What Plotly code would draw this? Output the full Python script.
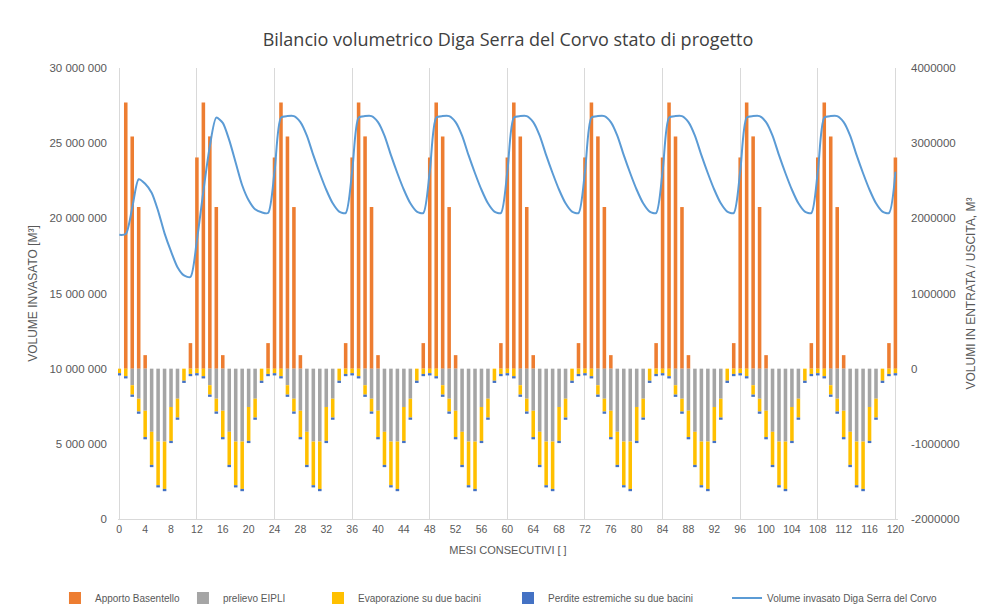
import plotly.graph_objects as go

# ---------------- data (m³) ----------------
mesi = list(range(121))
tick_mesi = list(range(0, 121, 4))

apporto_basentello = [
    0, 3540000, 3090000, 2150000, 180000, 0, 0, 0, 0, 0, 0, 340000,
    2810000, 3540000, 3090000, 2150000, 180000, 0, 0, 0, 0, 0, 0, 340000,
    2810000, 3540000, 3090000, 2150000, 180000, 0, 0, 0, 0, 0, 0, 340000,
    2810000, 3540000, 3090000, 2150000, 180000, 0, 0, 0, 0, 0, 0, 340000,
    2810000, 3540000, 3090000, 2150000, 180000, 0, 0, 0, 0, 0, 0, 340000,
    2810000, 3540000, 3090000, 2150000, 180000, 0, 0, 0, 0, 0, 0, 340000,
    2810000, 3540000, 3090000, 2150000, 180000, 0, 0, 0, 0, 0, 0, 340000,
    2810000, 3540000, 3090000, 2150000, 180000, 0, 0, 0, 0, 0, 0, 340000,
    2810000, 3540000, 3090000, 2150000, 180000, 0, 0, 0, 0, 0, 0, 340000,
    2810000, 3540000, 3090000, 2150000, 180000, 0, 0, 0, 0, 0, 0, 340000,
    2810000,
]

prelievo_eipli = [
    0, 0, -220000, -400000, -560000, -840000, -970000, -970000, -510000, -400000, 0, 0,
    0, 0, -220000, -400000, -560000, -840000, -970000, -970000, -510000, -400000, 0, 0,
    0, 0, -220000, -400000, -560000, -840000, -970000, -970000, -510000, -400000, 0, 0,
    0, 0, -220000, -400000, -560000, -840000, -970000, -970000, -510000, -400000, 0, 0,
    0, 0, -220000, -400000, -560000, -840000, -970000, -970000, -510000, -400000, 0, 0,
    0, 0, -220000, -400000, -560000, -840000, -970000, -970000, -510000, -400000, 0, 0,
    0, 0, -220000, -400000, -560000, -840000, -970000, -970000, -510000, -400000, 0, 0,
    0, 0, -220000, -400000, -560000, -840000, -970000, -970000, -510000, -400000, 0, 0,
    0, 0, -220000, -400000, -560000, -840000, -970000, -970000, -510000, -400000, 0, 0,
    0, 0, -220000, -400000, -560000, -840000, -970000, -970000, -510000, -400000, 0, 0,
    0,
]

evaporazione = [
    -60000, -100000, -125000, -170000, -350000, -440000, -580000, -630000, -450000, -250000, -160000, -70000,
    -60000, -100000, -125000, -170000, -350000, -440000, -580000, -630000, -450000, -250000, -160000, -70000,
    -60000, -100000, -125000, -170000, -350000, -440000, -580000, -630000, -450000, -250000, -160000, -70000,
    -60000, -100000, -125000, -170000, -350000, -440000, -580000, -630000, -450000, -250000, -160000, -70000,
    -60000, -100000, -125000, -170000, -350000, -440000, -580000, -630000, -450000, -250000, -160000, -70000,
    -60000, -100000, -125000, -170000, -350000, -440000, -580000, -630000, -450000, -250000, -160000, -70000,
    -60000, -100000, -125000, -170000, -350000, -440000, -580000, -630000, -450000, -250000, -160000, -70000,
    -60000, -100000, -125000, -170000, -350000, -440000, -580000, -630000, -450000, -250000, -160000, -70000,
    -60000, -100000, -125000, -170000, -350000, -440000, -580000, -630000, -450000, -250000, -160000, -70000,
    -60000, -100000, -125000, -170000, -350000, -440000, -580000, -630000, -450000, -250000, -160000, -70000,
    -60000,
]

perdite = [
    -30000, -30000, -30000, -30000, -30000, -30000, -30000, -30000, -30000, -30000, -30000, -30000,
    -30000, -30000, -30000, -30000, -30000, -30000, -30000, -30000, -30000, -30000, -30000, -30000,
    -30000, -30000, -30000, -30000, -30000, -30000, -30000, -30000, -30000, -30000, -30000, -30000,
    -30000, -30000, -30000, -30000, -30000, -30000, -30000, -30000, -30000, -30000, -30000, -30000,
    -30000, -30000, -30000, -30000, -30000, -30000, -30000, -30000, -30000, -30000, -30000, -30000,
    -30000, -30000, -30000, -30000, -30000, -30000, -30000, -30000, -30000, -30000, -30000, -30000,
    -30000, -30000, -30000, -30000, -30000, -30000, -30000, -30000, -30000, -30000, -30000, -30000,
    -30000, -30000, -30000, -30000, -30000, -30000, -30000, -30000, -30000, -30000, -30000, -30000,
    -30000, -30000, -30000, -30000, -30000, -30000, -30000, -30000, -30000, -30000, -30000, -30000,
    -30000, -30000, -30000, -30000, -30000, -30000, -30000, -30000, -30000, -30000, -30000, -30000,
    -30000,
]

volume_invasato = [
    18900000, 18950000, 20700000, 22600000, 22300000, 21700000, 20500000, 19000000, 17800000, 16750000, 16200000, 16100000,
    18550000, 21800000, 24800000, 26700000, 26350000, 25200000, 23700000, 22200000, 21200000, 20600000, 20400000, 20350000,
    23100000, 26700000, 26800000, 26800000, 26400000, 25500000, 24200000, 23000000, 21900000, 21000000, 20450000, 20350000,
    23100000, 26700000, 26800000, 26800000, 26400000, 25500000, 24200000, 23000000, 21900000, 21000000, 20450000, 20350000,
    23100000, 26700000, 26800000, 26800000, 26400000, 25500000, 24200000, 23000000, 21900000, 21000000, 20450000, 20350000,
    23100000, 26700000, 26800000, 26800000, 26400000, 25500000, 24200000, 23000000, 21900000, 21000000, 20450000, 20350000,
    23100000, 26700000, 26800000, 26800000, 26400000, 25500000, 24200000, 23000000, 21900000, 21000000, 20450000, 20350000,
    23100000, 26700000, 26800000, 26800000, 26400000, 25500000, 24200000, 23000000, 21900000, 21000000, 20450000, 20350000,
    23100000, 26700000, 26800000, 26800000, 26400000, 25500000, 24200000, 23000000, 21900000, 21000000, 20450000, 20350000,
    23100000, 26700000, 26800000, 26800000, 26400000, 25500000, 24200000, 23000000, 21900000, 21000000, 20450000, 20350000,
    23100000,
]

left_tickvals = [0, 5000000, 10000000, 15000000, 20000000, 25000000, 30000000]
left_ticktext = ["0", "5 000 000", "10 000 000", "15 000 000", "20 000 000", "25 000 000", "30 000 000"]
right_tickvals = [-2000000, -1000000, 0, 1000000, 2000000, 3000000, 4000000]
right_ticktext = ["-2000000", "-1000000", "0", "1000000", "2000000", "3000000", "4000000"]
grid_mesi = list(range(0, 121, 12))
grid_right = [-1000000, 1000000, 3000000]

FONT = "Liberation Sans"
TXT = "#595959"
GRID = "#d9d9d9"
XR = [-0.2, 120.4]

fig = go.Figure()
fig.add_trace(go.Bar(x=mesi, y=apporto_basentello, name="Apporto Basentello", legend="legend",
                     marker=dict(color="#ED7D31", line=dict(width=0)), xaxis="x", yaxis="y"))
fig.add_trace(go.Bar(x=mesi, y=prelievo_eipli, name="prelievo EIPLI", legend="legend2",
                     marker=dict(color="#A5A5A5", line=dict(width=0)), xaxis="x", yaxis="y"))
fig.add_trace(go.Bar(x=mesi, y=evaporazione, name="Evaporazione su due bacini", legend="legend3",
                     marker=dict(color="#FFC000", line=dict(width=0)), xaxis="x", yaxis="y"))
fig.add_trace(go.Bar(x=mesi, y=perdite, name="Perdite estremiche su due bacini", legend="legend4",
                     marker=dict(color="#4472C4", line=dict(width=0)), xaxis="x", yaxis="y"))
fig.add_trace(go.Scatter(x=mesi, y=volume_invasato, name="Volume invasato Diga Serra del Corvo",
                         legend="legend5", mode="lines",
                         line=dict(color="#5B9BD5", width=2, shape="spline", smoothing=0.7),
                         xaxis="x2", yaxis="y2"))

LEG_Y = -0.1752
legend_common = dict(orientation="h", xref="paper", xanchor="left", yref="paper", y=LEG_Y,
                     yanchor="middle", font=dict(family=FONT, size=10, color=TXT),
                     itemwidth=30, bgcolor="rgba(0,0,0,0)")

fig.update_layout(
    width=986, height=606,
    margin=dict(l=110, r=96, t=60, b=95, autoexpand=False),
    paper_bgcolor="white", plot_bgcolor="white",
    barmode="relative", bargap=0.45,
    font=dict(family=FONT, size=11, color=TXT),
    title=dict(text="Bilancio volumetrico Diga Serra del Corvo stato di progetto",
               font=dict(family="Open Sans", size=18, color="#404040"),
               x=0.5, xref="paper", xanchor="center", y=1 - 32 / 606, yref="container", yanchor="middle"),
    showlegend=True,
    legend=dict(x=-0.0808, **legend_common),
    legend2=dict(x=0.0833, **legend_common),
    legend3=dict(x=0.2564, **legend_common),
    legend4=dict(x=0.5, **legend_common),
    legend5=dict(x=0.7808, **legend_common),
    xaxis=dict(range=XR, tickmode="array", tickvals=tick_mesi, showgrid=False, zeroline=False,
               showline=True, linecolor=GRID, linewidth=1, ticks="",
               tickfont=dict(size=10.5, color=TXT), ticklabelstandoff=0,
               title=dict(text="MESI CONSECUTIVI [ ]", font=dict(size=11, color=TXT), standoff=12),
               anchor="y"),
    yaxis=dict(range=[-2000000, 4000000], side="right", tickmode="array",
               tickvals=right_tickvals, ticktext=right_ticktext, showgrid=False, zeroline=False,
               tickfont=dict(size=11.5, color=TXT), ticklabelstandoff=12,
               title=dict(text="VOLUMI IN ENTRATA / USCITA, M³", font=dict(size=12, color=TXT), standoff=7),
               anchor="x"),
    xaxis2=dict(range=XR, overlaying="x", tickmode="array", tickvals=grid_mesi, showgrid=True,
                gridcolor=GRID, gridwidth=1, showticklabels=False, ticks="", zeroline=False,
                showline=False, anchor="y2"),
    yaxis2=dict(range=[0, 30000000], overlaying="y", side="left", tickmode="array",
                tickvals=left_tickvals, ticktext=left_ticktext, showgrid=False, zeroline=False,
                tickfont=dict(size=11.5, color=TXT), ticklabelstandoff=10,
                title=dict(text="VOLUME INVASATO [M³]", font=dict(size=12, color=TXT), standoff=9),
                anchor="x2"),
    yaxis3=dict(range=[-2000000, 4000000], overlaying="y", side="right", tickmode="array",
                tickvals=grid_right, showgrid=True, gridcolor=GRID, gridwidth=1,
                showticklabels=False, ticks="", zeroline=False, showline=False, anchor="x"),
)

fig.write_html("out.html")
